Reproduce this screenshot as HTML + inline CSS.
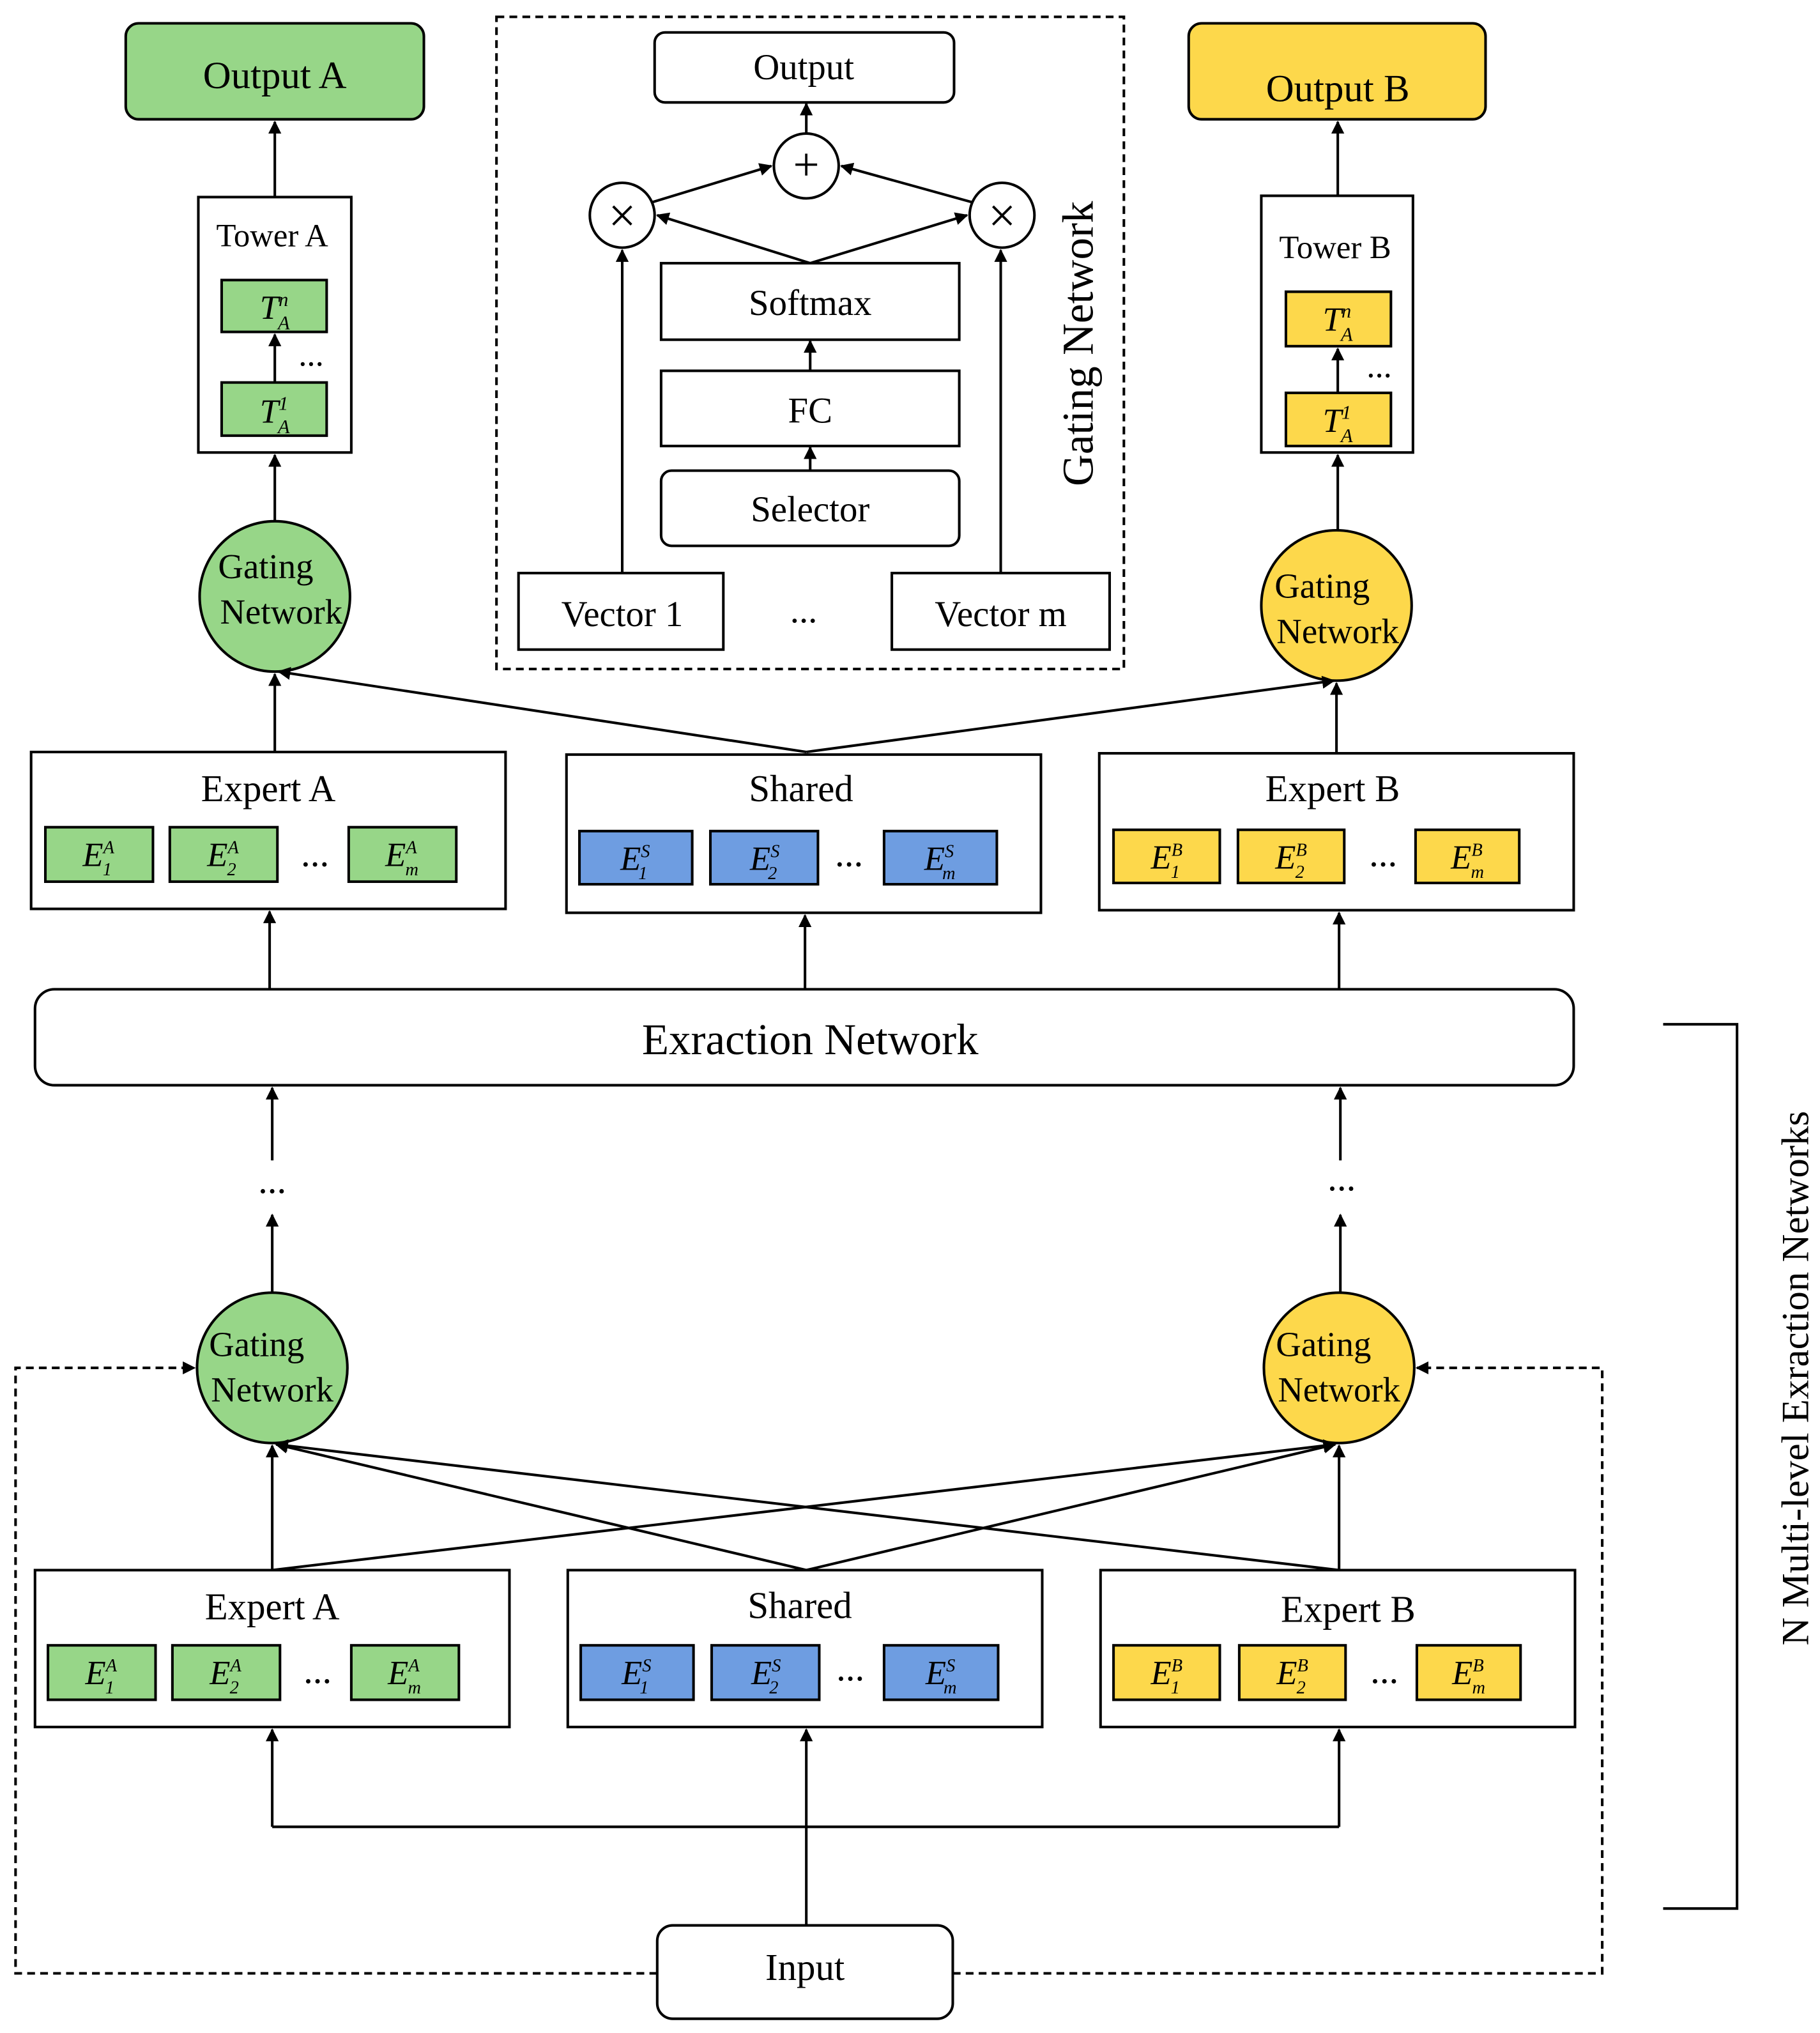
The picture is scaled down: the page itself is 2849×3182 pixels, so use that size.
<!DOCTYPE html>
<html><head><meta charset="utf-8"><style>
html,body{margin:0;padding:0;background:#fff}
svg{display:block}
text{font-family:"Liberation Serif",serif;fill:#000}
</style></head><body>
<svg width="2849" height="3182" viewBox="0 0 1404 1568" preserveAspectRatio="none" xmlns="http://www.w3.org/2000/svg">
<defs>
<marker id="a" viewBox="0 0 10 10" refX="9" refY="5" markerWidth="5" markerHeight="5" orient="auto-start-reverse"><path d="M0,0L10,5L0,10z" fill="#000"/></marker>
</defs>
<g stroke="#000" stroke-width="2" fill="none">
<rect x="383" y="13" width="484" height="503" stroke-dasharray="6,4"/>
<rect x="505" y="25" width="231" height="54" rx="8" fill="#fff"/>
<circle cx="622" cy="128" r="25" fill="#fff"/>
<circle cx="480" cy="166" r="25" fill="#fff"/>
<circle cx="773" cy="166" r="25" fill="#fff"/>
<rect x="510" y="203" width="230" height="59"/>
<rect x="510" y="286" width="230" height="58"/>
<rect x="510" y="363" width="230" height="58" rx="8"/>
<rect x="400" y="442" width="158" height="59"/>
<rect x="688" y="442" width="168" height="59"/>
<path d="M480 442V193" marker-end="url(#a)"/>
<path d="M772 442V193" marker-end="url(#a)"/>
<path d="M625 203L507 166" marker-end="url(#a)"/>
<path d="M625 203L746 166" marker-end="url(#a)"/>
<path d="M503 156L595 128" marker-end="url(#a)"/>
<path d="M750 156L649 128" marker-end="url(#a)"/>
<path d="M622 103V80" marker-end="url(#a)"/>
<path d="M625 286V263" marker-end="url(#a)"/>
<path d="M625 363V345" marker-end="url(#a)"/>
<rect x="97" y="18" width="230" height="74" rx="10" fill="#97d688"/>
<rect x="917" y="18" width="229" height="74" rx="10" fill="#fdd84b"/>
<rect x="153" y="152" width="118" height="197"/>
<rect x="171" y="216" width="81" height="40" fill="#97d688"/>
<rect x="171" y="295" width="81" height="41" fill="#97d688"/>
<path d="M212 295V258" marker-end="url(#a)"/>
<rect x="973" y="151" width="117" height="198"/>
<rect x="992" y="225" width="81" height="42" fill="#fdd84b"/>
<rect x="992" y="303" width="81" height="41" fill="#fdd84b"/>
<path d="M1032 303V269" marker-end="url(#a)"/>
<path d="M212 152V94" marker-end="url(#a)"/>
<path d="M1032 151V94" marker-end="url(#a)"/>
<path d="M212 402V351" marker-end="url(#a)"/>
<path d="M1032 409V351" marker-end="url(#a)"/>
<circle cx="212" cy="460" r="58" fill="#97d688"/>
<circle cx="1031" cy="467" r="58" fill="#fdd84b"/>
<rect x="24" y="580" width="366" height="121"/>
<rect x="437" y="582" width="366" height="122"/>
<rect x="848" y="581" width="366" height="121"/>
<g fill="#97d688"><rect x="35" y="638" width="83" height="42"/><rect x="131" y="638" width="83" height="42"/><rect x="269" y="638" width="83" height="42"/></g>
<g fill="#6e9de1"><rect x="447" y="641" width="87" height="41"/><rect x="548" y="641" width="83" height="41"/><rect x="682" y="641" width="87" height="41"/></g>
<g fill="#fdd84b"><rect x="859" y="640" width="82" height="41"/><rect x="955" y="640" width="82" height="41"/><rect x="1092" y="640" width="80" height="41"/></g>
<path d="M212 580V520" marker-end="url(#a)"/>
<path d="M622 580L215 518" marker-end="url(#a)"/>
<path d="M622 580L1029 525" marker-end="url(#a)"/>
<path d="M1031 580V527" marker-end="url(#a)"/>
<rect x="27" y="763" width="1187" height="74" rx="15"/>
<path d="M208 763V703" marker-end="url(#a)"/>
<path d="M621 763V706" marker-end="url(#a)"/>
<path d="M1033 763V704" marker-end="url(#a)"/>
<path d="M1283 790H1340V1472H1283"/>
<path d="M210 895V839" marker-end="url(#a)"/>
<path d="M210 997V937" marker-end="url(#a)"/>
<path d="M1034 895V839" marker-end="url(#a)"/>
<path d="M1034 997V937" marker-end="url(#a)"/>
<circle cx="210" cy="1055" r="58" fill="#97d688"/>
<circle cx="1033" cy="1055" r="58" fill="#fdd84b"/>
<rect x="27" y="1211" width="366" height="121"/>
<rect x="438" y="1211" width="366" height="121"/>
<rect x="849" y="1211" width="366" height="121"/>
<g fill="#97d688"><rect x="37" y="1269" width="83" height="42"/><rect x="133" y="1269" width="83" height="42"/><rect x="271" y="1269" width="83" height="42"/></g>
<g fill="#6e9de1"><rect x="448" y="1269" width="87" height="42"/><rect x="549" y="1269" width="83" height="42"/><rect x="682" y="1269" width="88" height="42"/></g>
<g fill="#fdd84b"><rect x="859" y="1269" width="82" height="42"/><rect x="956" y="1269" width="82" height="42"/><rect x="1093" y="1269" width="80" height="42"/></g>
<path d="M210 1211V1115" marker-end="url(#a)"/>
<path d="M210 1211L1030 1114" marker-end="url(#a)"/>
<path d="M622 1211L213 1114" marker-end="url(#a)"/>
<path d="M622 1211L1030 1114" marker-end="url(#a)"/>
<path d="M1033 1211L213 1114" marker-end="url(#a)"/>
<path d="M1033 1211V1115" marker-end="url(#a)"/>
<path d="M622 1485V1334" marker-end="url(#a)"/>
<path d="M210 1409H1033"/>
<path d="M210 1409V1334" marker-end="url(#a)"/>
<path d="M1033 1409V1334" marker-end="url(#a)"/>
<path d="M507 1522H12V1055H150" stroke-dasharray="6,4" marker-end="url(#a)"/>
<path d="M735 1522H1236V1055H1093" stroke-dasharray="6,4" marker-end="url(#a)"/>
<rect x="507" y="1485" width="228" height="72" rx="12" fill="#fff"/>
</g>
<g font-size="30" text-anchor="middle">
<text x="212" y="68">Output A</text>
<text x="1032" y="78">Output B</text>
<text x="620" y="61" font-size="28">Output</text>
<text x="622" y="139" font-size="36">+</text>
<text x="480" y="179" font-size="38">×</text>
<text x="773" y="179" font-size="38">×</text>
<text x="625" y="243" font-size="28">Softmax</text>
<text x="625" y="326" font-size="28">FC</text>
<text x="625" y="402" font-size="28">Selector</text>
<text x="480" y="483" font-size="28">Vector 1</text>
<text x="772" y="483" font-size="28">Vector m</text>
<text x="620" y="480" font-size="28">...</text>
<text transform="translate(843,265) rotate(-90)" font-size="34">Gating Network</text>
<text x="210" y="190" font-size="25">Tower A</text>
<text x="1030" y="199" font-size="25">Tower B</text>
<text x="240" y="282" font-size="26">...</text>
<text x="1064" y="291" font-size="26">...</text>
<g font-size="26" font-style="italic">
<text x="212" y="246">T<tspan font-size="15" dy="-10">n</tspan><tspan font-size="15" dx="-8" dy="18">A</tspan></text>
<text x="212" y="326">T<tspan font-size="15" dy="-10">1</tspan><tspan font-size="15" dx="-8" dy="18">A</tspan></text>
<text x="1032" y="255">T<tspan font-size="15" dy="-10">n</tspan><tspan font-size="15" dx="-8" dy="18">A</tspan></text>
<text x="1032" y="333">T<tspan font-size="15" dy="-10">1</tspan><tspan font-size="15" dx="-8" dy="18">A</tspan></text>
</g>
<g font-size="27">
<text x="205" y="446">Gating</text><text x="217" y="481">Network</text>
<text x="1020" y="461">Gating</text><text x="1032" y="496">Network</text>
<text x="198" y="1046">Gating</text><text x="210" y="1081">Network</text>
<text x="1021" y="1046">Gating</text><text x="1033" y="1081">Network</text>
</g>
<g font-size="29">
<text x="207" y="618">Expert A</text><text x="618" y="618">Shared</text><text x="1028" y="618">Expert B</text>
<text x="210" y="1249">Expert A</text><text x="617" y="1248">Shared</text><text x="1040" y="1251">Expert B</text>
<text x="243" y="668">...</text><text x="655" y="668">...</text><text x="1067" y="668">...</text>
<text x="245" y="1298">...</text><text x="656" y="1296">...</text><text x="1068" y="1298">...</text>
<text x="210" y="920">...</text><text x="1035" y="918">...</text>
</g>
<text x="625" y="813" font-size="34">Exraction  Network</text>
<text x="621" y="1527" font-size="29">Input</text>
<text transform="translate(1395,1063) rotate(-90)" font-size="30">N Multi-level Exraction Networks</text>
<g font-size="26" font-style="italic">
<text x="76" y="668">E<tspan font-size="14" dy="-10">A</tspan><tspan font-size="14" dx="-9" dy="17">1</tspan></text>
<text x="172" y="668">E<tspan font-size="14" dy="-10">A</tspan><tspan font-size="14" dx="-9" dy="17">2</tspan></text>
<text x="310" y="668">E<tspan font-size="14" dy="-10">A</tspan><tspan font-size="14" dx="-9" dy="17">m</tspan></text>
<text x="490" y="671">E<tspan font-size="14" dy="-10">S</tspan><tspan font-size="14" dx="-9" dy="17">1</tspan></text>
<text x="590" y="671">E<tspan font-size="14" dy="-10">S</tspan><tspan font-size="14" dx="-9" dy="17">2</tspan></text>
<text x="725" y="671">E<tspan font-size="14" dy="-10">S</tspan><tspan font-size="14" dx="-9" dy="17">m</tspan></text>
<text x="900" y="670">E<tspan font-size="14" dy="-10">B</tspan><tspan font-size="14" dx="-9" dy="17">1</tspan></text>
<text x="996" y="670">E<tspan font-size="14" dy="-10">B</tspan><tspan font-size="14" dx="-9" dy="17">2</tspan></text>
<text x="1132" y="670">E<tspan font-size="14" dy="-10">B</tspan><tspan font-size="14" dx="-9" dy="17">m</tspan></text>
<text x="78" y="1299">E<tspan font-size="14" dy="-10">A</tspan><tspan font-size="14" dx="-9" dy="17">1</tspan></text>
<text x="174" y="1299">E<tspan font-size="14" dy="-10">A</tspan><tspan font-size="14" dx="-9" dy="17">2</tspan></text>
<text x="312" y="1299">E<tspan font-size="14" dy="-10">A</tspan><tspan font-size="14" dx="-9" dy="17">m</tspan></text>
<text x="491" y="1299">E<tspan font-size="14" dy="-10">S</tspan><tspan font-size="14" dx="-9" dy="17">1</tspan></text>
<text x="591" y="1299">E<tspan font-size="14" dy="-10">S</tspan><tspan font-size="14" dx="-9" dy="17">2</tspan></text>
<text x="726" y="1299">E<tspan font-size="14" dy="-10">S</tspan><tspan font-size="14" dx="-9" dy="17">m</tspan></text>
<text x="900" y="1299">E<tspan font-size="14" dy="-10">B</tspan><tspan font-size="14" dx="-9" dy="17">1</tspan></text>
<text x="997" y="1299">E<tspan font-size="14" dy="-10">B</tspan><tspan font-size="14" dx="-9" dy="17">2</tspan></text>
<text x="1133" y="1299">E<tspan font-size="14" dy="-10">B</tspan><tspan font-size="14" dx="-9" dy="17">m</tspan></text>
</g>
</g>
</svg>
</body></html>
